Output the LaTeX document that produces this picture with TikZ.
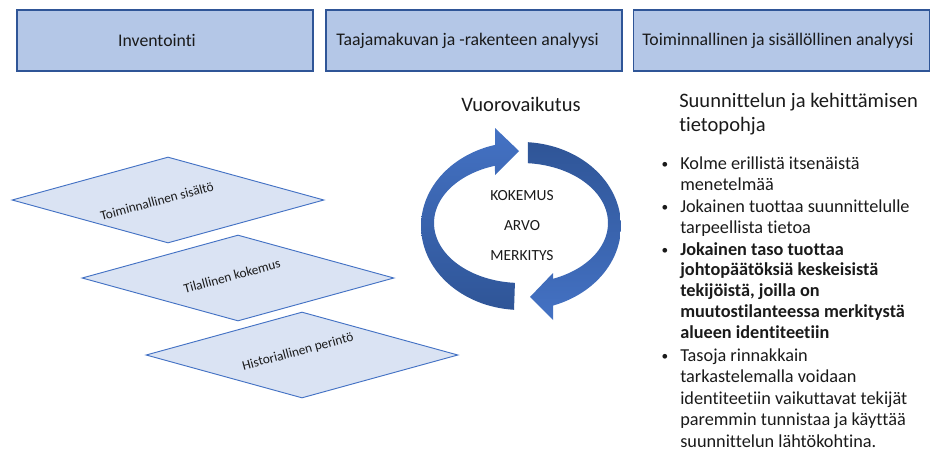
\documentclass[tikz,border=0pt]{standalone}
\usepackage{fontspec}
\setmainfont{Carlito}[Ligatures={NoCommon,NoContextual}]
\usetikzlibrary{shapes.geometric}
\newcommand\tI{t\kern0pt i}
\definecolor{boxfill}{HTML}{B4C7E7}
\definecolor{boxline}{HTML}{2F5597}
\definecolor{dfill}{HTML}{DAE3F3}
\definecolor{dline}{HTML}{4472C4}
\definecolor{arrlight}{HTML}{4472C4}
\definecolor{arrdark}{HTML}{2F5597}
\definecolor{txt}{HTML}{1A1A1A}
\begin{document}
\begin{tikzpicture}[x=0.75pt,y=-0.75pt,
  topbox/.style={draw=boxline, fill=boxfill, line width=0.8pt, minimum width=222pt, minimum height=45.75pt, inner sep=0pt},
  toptext/.style={text=txt, font=\fontsize{13.3}{16}\selectfont, inner sep=0pt},
  layer/.style={shape=diamond, draw=dline, fill=dfill, line width=0.7pt, minimum width=234pt, minimum height=64.5pt, inner sep=0pt},
  layertext/.style={text=txt, font=\fontsize{10}{12}\selectfont, rotate=15, inner sep=0pt},
  cycletext/.style={text=txt, font=\fontsize{11.6}{14}\selectfont, anchor=base, inner sep=0pt},
  headtext/.style={text=txt, font=\fontsize{15.4}{18}\selectfont, inner sep=0pt},
  bline/.style={text=txt, font=\fontsize{13.7}{16}\selectfont, anchor=base west, inner sep=0pt},
  bbold/.style={bline, font=\fontsize{13.7}{16}\selectfont\bfseries},
  bdot/.style={text=txt, font=\fontsize{10}{12}\selectfont, anchor=base, inner sep=0pt}
]
\useasboundingbox (0,0) rectangle (932,450);

% top boxes
\node[topbox] (b1) at (165,40.5) {};
\node[topbox] (b2) at (474,40.5) {};
\node[topbox] (b3) at (781.5,40.5) {};
\node[toptext] (t1) at (157,40.5) {Invento\kern0pt in\tI};
\node[toptext] (t2) at (467.5,40.5) {Taajamakuvan ja -rakenteen analyysi};
\node[toptext] (t3) at (778,40.5) {Toiminnallinen ja sisällöllinen analyysi};

% layers
\node[layer] (d1) at (168,200) {};
\node[layer] (d2) at (238,278) {};
\node[layer] (d3) at (302,355) {};
\node[layertext] (l1) at (157,201) {Toiminnallinen sisältö};
\node[layertext] (l2) at (232,276) {Tilallinen kokemus};
\node[layertext] (l3) at (298,352) {Historiallinen perintö};

% cycle
\node[headtext, anchor=base] (vv) at (521,111) {Vuorovaikutus};
\shade[top color=arrlight, bottom color=arrdark]
  plot[domain=266:105, samples=60] ({521+100*cos(\x)},{226-84*sin(\x)})
  -- (495,128) -- (519,151) -- (495,175)
  -- plot[domain=107.4:266, samples=60] ({521+87*cos(\x)},{223-60*sin(\x)}) -- cycle;
\shade[top color=arrdark, bottom color=arrlight]
  plot[domain=86:-71.3, samples=60] ({521+100*cos(\x)},{226-84*sin(\x)})
  -- (553,320) -- (530,297) -- (553,273)
  -- plot[domain=-68.4:85.4, samples=60] ({521+87*cos(\x)},{223-60*sin(\x)}) -- cycle;
\node[cycletext] (k1) at (522,200) {KOKEMUS};
\node[cycletext] (k2) at (522,230) {ARVO};
\node[cycletext] (k3) at (522,260) {MERKITYS};

% right text
\node[headtext, anchor=base west] (h1) at (679,107) {Suunnittelun ja kehittämisen};
\node[headtext, anchor=base west] (h2) at (679,131) {\tI etopohja};

\node[bdot] (p1) at (665,168) {\textbullet};
\node[bline] (a1) at (680,169) {Kolme erillistä itsenäistä};
\node[bline] (a2) at (680,190) {menetelmää};
\node[bdot] (p2) at (665,211) {\textbullet};
\node[bline] (a3) at (680,212) {Jokainen tuottaa suunnittelulle};
\node[bline] (a4) at (680,233) {tarpeellista \tI etoa};
\node[bdot] (p3) at (665,254) {\textbullet};
\node[bbold] (a5) at (680,255) {Jokainen taso tuottaa};
\node[bbold] (a6) at (680,275) {johtopäätöksiä keskeisistä};
\node[bbold] (a7) at (680,296) {tekijöistä, joilla on};
\node[bbold] (a8) at (680,317) {muutos\tI lanteessa merkitystä};
\node[bbold] (a9) at (680,338) {alueen iden\tI tee\tI in};
\node[bdot] (p4) at (665,360) {\textbullet};
\node[bline] (a10) at (680,361) {Tasoja rinnakkain};
\node[bline] (a11) at (680,382) {tarkastelemalla voidaan};
\node[bline] (a12) at (680,404) {iden\tI tee\tI in vaikuttavat tekijät};
\node[bline] (a13) at (680,425) {paremmin tunnistaa ja käyttää};
\node[bline] (a14) at (680,447) {suunnittelun lähtökoh\tI na.};
\end{tikzpicture}
\end{document}
